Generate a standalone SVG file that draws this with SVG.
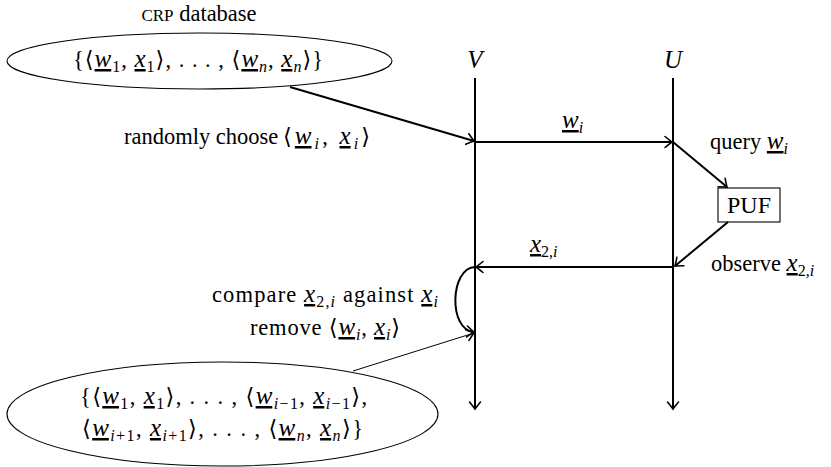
<svg xmlns="http://www.w3.org/2000/svg" width="831" height="467" viewBox="0 0 831 467">
<style>
.t{font-family:"Liberation Serif","DejaVu Serif",serif;font-size:22.5px;fill:#000}
.m{font-style:italic;font-size:25px}
.s{font-size:16px}
.si{font-size:16px;font-style:italic}
.u{text-decoration:underline}
.ln{stroke:#000;stroke-width:2;fill:none}
.thin{stroke:#000;stroke-width:1;fill:none}
.box{stroke:#000;stroke-width:1.1;fill:#fff}
</style>
<defs>
<marker id="ah" viewBox="-9 -7 11 14" refX="0" refY="0" markerWidth="11" markerHeight="14" markerUnits="userSpaceOnUse" orient="auto">
<path d="M-7,-5.5 Q-1.5,-1 0,0 Q-1.5,1 -7,5.5" stroke="#000" stroke-width="1.6" fill="none" stroke-linecap="round"/>
</marker>
</defs>

<g id="db-top">
<text class="t" x="199" y="21" text-anchor="middle"><tspan style="font-size:17px">CRP</tspan> database</text>
<ellipse cx="199.5" cy="61" rx="192.5" ry="28" class="box"/>
<text class="t" x="73" y="67" textLength="250" lengthAdjust="spacing">{⟨<tspan class="m u">w</tspan><tspan class="s" dy="5">1</tspan><tspan dy="-5">, </tspan><tspan class="m u">x</tspan><tspan class="s" dy="5">1</tspan><tspan dy="-5">⟩, . . . , ⟨</tspan><tspan class="m u">w</tspan><tspan class="si" dy="5">n</tspan><tspan dy="-5">, </tspan><tspan class="m u">x</tspan><tspan class="si" dy="5">n</tspan><tspan dy="-5">⟩}</tspan></text>
</g>

<g id="V">
<text class="t" x="475" y="68" text-anchor="middle" style="font-style:italic;font-size:25px">V</text>
</g>
<g id="U">
<text class="t" x="673" y="68" text-anchor="middle" style="font-style:italic;font-size:25px">U</text>
</g>

<g id="PUF">
<rect x="718" y="188" width="62" height="34" class="box"/>
<text class="t" x="749" y="213" text-anchor="middle" style="font-size:24px">PUF</text>
</g>

<g id="db-bottom">
<ellipse cx="222.5" cy="414" rx="215.5" ry="52" class="box"/>
<text class="t" x="80" y="404" textLength="287" lengthAdjust="spacing">{⟨<tspan class="m u">w</tspan><tspan class="s" dy="5">1</tspan><tspan dy="-5">, </tspan><tspan class="m u">x</tspan><tspan class="s" dy="5">1</tspan><tspan dy="-5">⟩, . . . , ⟨</tspan><tspan class="m u">w</tspan><tspan class="si" dy="5">i</tspan><tspan class="s">−1</tspan><tspan dy="-5">, </tspan><tspan class="m u">x</tspan><tspan class="si" dy="5">i</tspan><tspan class="s">−1</tspan><tspan dy="-5">⟩,</tspan></text>
<text class="t" x="82" y="436" textLength="281" lengthAdjust="spacing">⟨<tspan class="m u">w</tspan><tspan class="si" dy="5">i</tspan><tspan class="s">+1</tspan><tspan dy="-5">, </tspan><tspan class="m u">x</tspan><tspan class="si" dy="5">i</tspan><tspan class="s">+1</tspan><tspan dy="-5">⟩, . . . , ⟨</tspan><tspan class="m u">w</tspan><tspan class="si" dy="5">n</tspan><tspan dy="-5">, </tspan><tspan class="m u">x</tspan><tspan class="si" dy="5">n</tspan><tspan dy="-5">⟩}</tspan></text>
</g>

<g id="connectors">
<line x1="475" y1="78" x2="475" y2="409" class="ln" marker-end="url(#ah)"/>
<line x1="673" y1="78" x2="673" y2="409" class="ln" marker-end="url(#ah)"/>
<line x1="290" y1="87" x2="474" y2="141" class="ln" marker-end="url(#ah)"/>
<line x1="475" y1="142" x2="672" y2="142" class="ln" marker-end="url(#ah)"/>
<line x1="673" y1="142" x2="727" y2="187" class="ln" marker-end="url(#ah)"/>
<line x1="728" y1="222" x2="675" y2="266" class="ln" marker-end="url(#ah)"/>
<line x1="673" y1="267" x2="476" y2="267" class="ln" marker-end="url(#ah)"/>
<path d="M475,267 C450,268 448,330 474,332" class="ln" marker-end="url(#ah)"/>
<line x1="353" y1="371" x2="474" y2="333" class="thin" marker-end="url(#ah)"/>
</g>

<g id="labels">
<text class="t" x="124" y="144">randomly choose</text>
<text class="t" x="283" y="144" textLength="87" lengthAdjust="spacing">⟨<tspan class="m u">w</tspan><tspan class="si" dy="5">i</tspan><tspan dy="-5">, </tspan><tspan class="m u">x</tspan><tspan class="si" dy="5">i</tspan><tspan dy="-5">⟩</tspan></text>
<text class="t" x="562" y="128"><tspan class="m u">w</tspan><tspan class="si" dy="5">i</tspan></text>
<text class="t" x="710" y="149">query <tspan class="m u">w</tspan><tspan class="si" dy="5">i</tspan></text>
<text class="t" x="530" y="252"><tspan class="m u">x</tspan><tspan class="s" dy="5">2,</tspan><tspan class="si">i</tspan></text>
<text class="t" x="711" y="271">observe <tspan class="m u">x</tspan><tspan class="s" dy="5">2,</tspan><tspan class="si">i</tspan></text>
<text class="t" x="212" y="302" textLength="226" lengthAdjust="spacing">compare <tspan class="m u">x</tspan><tspan class="s" dy="5">2,</tspan><tspan class="si">i</tspan><tspan dy="-5"> against </tspan><tspan class="m u">x</tspan><tspan class="si" dy="5">i</tspan></text>
<text class="t" x="250" y="335" textLength="150" lengthAdjust="spacing">remove ⟨<tspan class="m u">w</tspan><tspan class="si" dy="5">i</tspan><tspan dy="-5">, </tspan><tspan class="m u">x</tspan><tspan class="si" dy="5">i</tspan><tspan dy="-5">⟩</tspan></text>
</g>
</svg>
